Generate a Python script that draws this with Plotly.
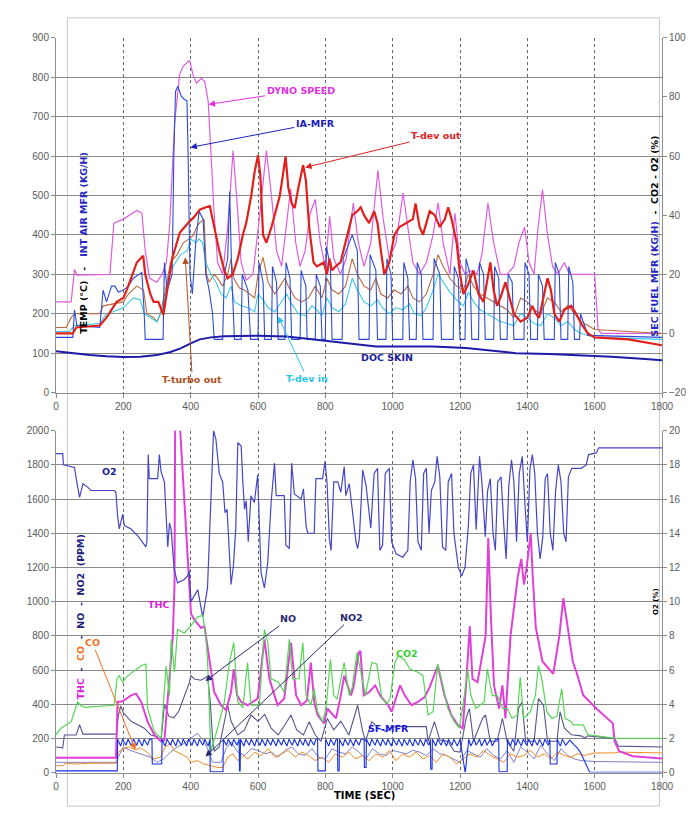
import plotly.graph_objects as go

# ---------------- upper panel: temperatures / air flow (left axis) ----------------
DYNO_T = [0, 45, 55, 62, 160, 172, 200, 240, 255, 265, 278, 300, 315, 328, 338, 352, 367, 377, 397, 407, 417, 432, 442, 452, 461, 469, 480, 495, 510, 526, 538, 550, 565, 585, 605, 625, 640, 655, 670, 697, 712, 725, 740, 755, 770, 785, 800, 813, 825, 845, 862, 883, 898, 915, 935, 956, 972, 990, 1010, 1031, 1045, 1060, 1080, 1100, 1120, 1135, 1150, 1170, 1185, 1200, 1215, 1230, 1250, 1265, 1283, 1300, 1320, 1340, 1360, 1375, 1392, 1405, 1420, 1432, 1445, 1460, 1475, 1490, 1510, 1525, 1600, 1610, 1620, 1800]
DYNO_V = [230, 230, 312, 298, 300, 430, 440, 462, 455, 360, 290, 280, 300, 330, 430, 680, 806, 827, 843, 806, 785, 797, 789, 739, 597, 464, 330, 300, 420, 614, 480, 330, 285, 300, 450, 614, 500, 360, 320, 517, 380, 320, 360, 455, 490, 380, 320, 447, 340, 300, 340, 481, 380, 320, 380, 564, 440, 340, 380, 506, 420, 330, 300, 330, 400, 481, 380, 300, 455, 330, 300, 310, 300, 350, 481, 380, 300, 300, 320, 380, 420, 330, 300, 420, 515, 400, 320, 300, 330, 300, 300, 160, 150, 150]

IAMFR_T = [0, 50, 55, 62, 130, 140, 150, 165, 175, 185, 200, 215, 230, 255, 262, 265, 318, 322, 330, 345, 350, 355, 362, 372, 382, 389, 392, 398, 405, 415, 425, 437, 445, 455, 465, 470, 495, 500, 510, 516, 522, 530, 550, 553, 570, 578, 600, 603, 615, 620, 640, 643, 655, 660, 680, 683, 695, 700, 725, 728, 742, 746, 770, 773, 785, 790, 800, 803, 815, 820, 850, 853, 880, 895, 900, 930, 933, 950, 955, 980, 983, 995, 1000, 1030, 1033, 1045, 1050, 1070, 1073, 1085, 1090, 1120, 1123, 1140, 1145, 1180, 1183, 1195, 1200, 1215, 1218, 1230, 1235, 1255, 1258, 1270, 1275, 1300, 1303, 1315, 1320, 1340, 1343, 1355, 1360, 1390, 1393, 1405, 1410, 1430, 1433, 1445, 1450, 1480, 1483, 1495, 1500, 1520, 1523, 1535, 1540, 1555, 1558, 1570, 1580, 1800]
IAMFR_V = [140, 140, 210, 170, 165, 260, 230, 270, 270, 255, 260, 270, 290, 305, 200, 135, 135, 330, 260, 300, 600, 764, 777, 752, 743, 741, 622, 300, 250, 380, 460, 440, 300, 260, 200, 135, 135, 300, 340, 510, 300, 135, 135, 300, 260, 135, 135, 330, 280, 135, 135, 320, 280, 135, 135, 330, 290, 135, 135, 310, 270, 135, 135, 300, 270, 135, 135, 370, 320, 135, 135, 340, 400, 360, 135, 135, 350, 310, 135, 135, 340, 300, 135, 135, 330, 290, 135, 135, 330, 300, 135, 135, 340, 300, 135, 135, 320, 290, 135, 135, 340, 300, 135, 135, 330, 300, 135, 135, 320, 290, 135, 135, 300, 280, 135, 135, 330, 300, 135, 135, 300, 270, 135, 135, 330, 300, 135, 135, 320, 280, 135, 135, 200, 170, 145, 140]

TDEVOUT_T = [0, 50, 60, 130, 150, 180, 200, 210, 240, 259, 265, 280, 290, 304, 319, 330, 345, 368, 393, 410, 427, 445, 457, 465, 475, 485, 500, 510, 525, 540, 555, 565, 580, 590, 600, 607, 615, 625, 640, 654, 665, 682, 690, 700, 709, 720, 734, 742, 752, 765, 775, 785, 795, 805, 812, 820, 830, 845, 860, 880, 895, 905, 915, 930, 945, 955, 965, 975, 990, 1005, 1020, 1040, 1060, 1068, 1080, 1090, 1100, 1110, 1125, 1140, 1155, 1165, 1175, 1190, 1200, 1210, 1222, 1240, 1255, 1270, 1290, 1300, 1310, 1320, 1335, 1345, 1360, 1380, 1400, 1415, 1425, 1435, 1450, 1460, 1470, 1480, 1495, 1510, 1530, 1545, 1560, 1580, 1600, 1700, 1800]
TDEVOUT_V = [150, 150, 165, 170, 190, 230, 240, 260, 330, 347, 300, 250, 230, 230, 197, 260, 340, 406, 431, 445, 464, 470, 473, 440, 400, 360, 310, 290, 300, 340, 400, 430, 500, 560, 602, 550, 400, 380, 420, 464, 500, 599, 520, 480, 468, 520, 577, 540, 420, 330, 320, 325, 330, 300, 340, 310, 320, 330, 380, 450, 460, 470, 450, 430, 460, 430, 360, 300, 330, 400, 420, 430, 440, 480, 420, 400, 430, 460, 450, 420, 440, 470, 440, 380, 300, 250, 270, 310, 250, 230, 330, 260, 220, 240, 280, 250, 200, 180, 190, 220, 200, 190, 255, 290, 260, 200, 180, 210, 220, 200, 175, 150, 140, 135, 120]

TTURBO_T = [0, 30, 45, 55, 130, 140, 200, 215, 240, 260, 270, 290, 300, 310, 325, 340, 360, 378, 395, 407, 418, 427, 440, 447, 455, 470, 480, 495, 510, 520, 528, 545, 560, 575, 590, 600, 615, 630, 650, 665, 680, 690, 710, 730, 750, 770, 790, 805, 820, 840, 860, 880, 895, 915, 935, 950, 965, 985, 1005, 1025, 1045, 1060, 1080, 1100, 1120, 1135, 1150, 1170, 1190, 1210, 1225, 1240, 1260, 1280, 1300, 1320, 1340, 1360, 1380, 1400, 1420, 1440, 1460, 1480, 1500, 1520, 1540, 1560, 1580, 1600, 1800]
TTURBO_V = [165, 165, 190, 200, 200, 220, 230, 250, 270, 260, 200, 190, 180, 200, 260, 330, 350, 380, 390, 398, 420, 431, 440, 300, 280, 300, 290, 270, 300, 340, 290, 265, 260, 250, 240, 300, 343, 280, 250, 270, 290, 270, 240, 230, 240, 270, 240, 290, 260, 250, 270, 340, 300, 270, 260, 290, 250, 240, 260, 250, 270, 240, 230, 250, 300, 350, 320, 290, 270, 260, 300, 270, 250, 240, 230, 220, 210, 190, 240, 230, 210, 200, 240, 230, 205, 220, 200, 180, 170, 160, 150]

TDEVIN_T = [0, 40, 55, 130, 150, 170, 200, 230, 250, 262, 280, 300, 320, 335, 355, 370, 390, 400, 415, 425, 435, 445, 460, 475, 490, 505, 520, 530, 550, 570, 590, 600, 615, 630, 650, 670, 685, 700, 720, 740, 760, 775, 790, 805, 820, 840, 860, 880, 895, 915, 935, 955, 970, 990, 1010, 1030, 1050, 1065, 1085, 1100, 1120, 1135, 1150, 1170, 1190, 1210, 1225, 1240, 1260, 1280, 1300, 1320, 1340, 1360, 1380, 1400, 1420, 1440, 1460, 1480, 1500, 1520, 1540, 1560, 1580, 1600, 1800]
TDEVIN_V = [155, 155, 170, 175, 200, 205, 215, 240, 235, 200, 190, 180, 220, 300, 330, 350, 360, 390, 380, 390, 380, 330, 300, 280, 250, 240, 270, 230, 220, 215, 205, 250, 235, 215, 205, 230, 250, 225, 200, 195, 220, 210, 195, 240, 215, 205, 225, 290, 260, 230, 220, 235, 215, 200, 215, 210, 225, 200, 195, 215, 260, 300, 280, 255, 235, 220, 255, 230, 210, 200, 190, 180, 175, 170, 200, 190, 175, 170, 200, 190, 170, 180, 160, 150, 145, 140, 135]

DOC_T = [0, 50, 100, 150, 200, 250, 300, 340, 370, 400, 427, 460, 500, 600, 684, 740, 803, 880, 951, 1050, 1119, 1218, 1300, 1366, 1465, 1550, 1650, 1750, 1800]
DOC_V = [105, 100, 95, 92, 90, 91, 95, 103, 112, 125, 135, 140, 143, 144, 142, 137, 131, 122, 117, 117, 117, 113, 106, 100, 98, 95, 91, 85, 82]

# ---------------- lower panel: emissions ----------------
# O2, CO2 and secondary fuel flow are read on the right-hand (%) axis
O2_T = [0, 20, 22, 55, 60, 65, 70, 80, 94, 104, 173, 178, 183, 188, 198, 203, 223, 245, 267, 270, 274, 277, 302, 307, 312, 322, 330, 332, 337, 342, 351, 361, 381, 391, 396, 401, 421, 436, 450, 460, 468, 475, 485, 495, 502, 508, 515, 520, 527, 534, 540, 550, 555, 560, 565, 571, 579, 589, 599, 609, 619, 629, 639, 649, 654, 678, 683, 693, 700, 708, 728, 735, 743, 748, 767, 772, 792, 799, 805, 812, 817, 825, 837, 846, 856, 861, 871, 881, 891, 896, 901, 911, 921, 935, 945, 955, 962, 970, 978, 990, 997, 1010, 1030, 1045, 1052, 1060, 1068, 1075, 1085, 1092, 1100, 1108, 1115, 1125, 1132, 1140, 1148, 1158, 1165, 1175, 1182, 1195, 1205, 1215, 1225, 1232, 1240, 1248, 1258, 1265, 1275, 1282, 1290, 1298, 1305, 1312, 1322, 1330, 1337, 1345, 1353, 1360, 1368, 1376, 1385, 1392, 1400, 1408, 1415, 1422, 1430, 1438, 1446, 1453, 1460, 1468, 1476, 1484, 1492, 1500, 1508, 1515, 1522, 1532, 1560, 1575, 1582, 1605, 1612, 1800]
O2_V = [18.66, 18.66, 18.0, 17.85, 17.2, 16.5, 16.1, 16.9, 16.7, 16.5, 16.5, 16.4, 15.0, 14.25, 15.1, 14.45, 14.25, 13.8, 13.2, 13.5, 18.6, 17.2, 17.2, 18.6, 17.6, 17.0, 14.1, 13.2, 14.6, 14.2, 11.9, 11.1, 11.3, 11.5, 11.8, 10.0, 10.7, 9.1, 10.8, 16.2, 20.0, 19.5, 17.5, 17.0, 15.2, 15.4, 12.3, 11.0, 12.1, 14.3, 19.3, 19.1, 17.0, 15.4, 15.9, 13.5, 16.2, 15.8, 17.4, 11.7, 10.8, 12.3, 15.8, 18.1, 16.2, 16.2, 13.3, 13.1, 18.1, 16.3, 16.0, 16.6, 14.4, 14.0, 14.0, 17.2, 17.2, 18.2, 17.0, 13.7, 13.0, 17.0, 17.0, 16.4, 17.9, 16.2, 16.9, 15.2, 13.5, 13.1, 13.7, 17.7, 16.8, 14.3, 17.5, 17.8, 13.0, 13.3, 17.5, 17.8, 13.5, 12.8, 12.6, 13.0, 17.0, 18.3, 17.2, 13.5, 13.0, 17.5, 17.8, 14.0, 16.5, 17.0, 18.5, 17.3, 13.2, 13.0, 17.0, 17.5, 14.0, 12.0, 11.5, 12.0, 14.5, 17.5, 18.0, 14.2, 18.5, 17.0, 13.8, 16.5, 17.2, 14.0, 13.0, 17.0, 17.3, 14.5, 12.5, 16.8, 18.3, 17.0, 13.5, 17.5, 18.5, 16.0, 13.5, 17.8, 18.6, 17.5, 14.0, 12.5, 13.8, 17.2, 17.5, 14.0, 13.0, 16.5, 18.0, 17.0, 14.0, 13.5, 17.3, 17.8, 17.8, 18.0, 18.6, 18.7, 19.0, 19.0]

CO2_T = [0, 15, 45, 64, 75, 90, 104, 173, 181, 188, 198, 210, 233, 253, 267, 272, 292, 312, 327, 337, 342, 352, 361, 381, 401, 420, 436, 445, 450, 460, 480, 500, 515, 528, 540, 555, 569, 579, 604, 619, 629, 639, 660, 678, 693, 703, 722, 733, 743, 757, 767, 777, 792, 802, 815, 825, 835, 846, 856, 871, 880, 894, 911, 919, 938, 953, 968, 982, 992, 1007, 1017, 1035, 1051, 1075, 1090, 1105, 1120, 1134, 1149, 1164, 1183, 1198, 1213, 1223, 1232, 1247, 1272, 1281, 1296, 1311, 1326, 1340, 1355, 1370, 1379, 1389, 1409, 1424, 1433, 1443, 1458, 1473, 1488, 1502, 1512, 1531, 1536, 1566, 1580, 1659, 1800]
CO2_V = [2.21, 2.6, 2.98, 4.13, 3.9, 3.8, 3.85, 3.94, 5.48, 5.67, 5.29, 5.6, 5.96, 6.25, 6.35, 3.75, 2.4, 2.02, 6.25, 4.52, 7.79, 5.87, 8.37, 8.17, 8.6, 9.1, 9.2, 8.0, 6.63, 1.25, 2.6, 4.13, 6.44, 7.6, 4.13, 3.8, 6.44, 3.94, 3.94, 8.37, 7.6, 5.48, 5.3, 4.71, 7.79, 5.48, 5.5, 7.6, 4.52, 3.94, 4.9, 3.56, 2.98, 3.75, 6.63, 4.52, 4.3, 5.48, 6.44, 4.52, 5.0, 7.02, 5.29, 4.52, 6.44, 6.35, 4.33, 4.04, 4.3, 6.44, 6.83, 6.6, 6.06, 5.87, 5.67, 3.37, 3.56, 6.35, 5.1, 3.75, 2.98, 2.6, 4.52, 6.06, 4.52, 3.75, 4.13, 6.06, 4.5, 4.52, 3.75, 3.75, 3.17, 3.37, 5.58, 3.17, 3.56, 4.52, 6.25, 5.48, 3.56, 3.17, 3.3, 4.9, 3.17, 2.98, 2.79, 2.79, 2.21, 2.02, 2.0]

SF_T = [0, 182, 183, 192, 198, 208, 214, 224, 230, 240, 246, 256, 262, 272, 278, 285, 286, 314, 315, 324, 330, 340, 346, 356, 362, 372, 378, 388, 394, 404, 410, 420, 426, 436, 442, 452, 457, 458, 496, 497, 506, 512, 522, 528, 538, 544, 545, 547, 548, 558, 564, 574, 580, 590, 596, 606, 612, 622, 628, 638, 644, 654, 660, 670, 676, 686, 692, 702, 708, 718, 724, 734, 740, 750, 756, 766, 772, 777, 778, 800, 801, 810, 816, 826, 832, 836, 837, 841, 842, 852, 858, 868, 874, 884, 890, 900, 906, 915, 916, 921, 922, 932, 938, 948, 954, 964, 970, 980, 986, 996, 1002, 1012, 1018, 1028, 1034, 1044, 1050, 1060, 1066, 1076, 1082, 1092, 1098, 1108, 1112, 1113, 1117, 1118, 1128, 1134, 1144, 1150, 1160, 1166, 1176, 1182, 1192, 1199, 1200, 1215, 1216, 1226, 1232, 1242, 1248, 1258, 1264, 1274, 1280, 1290, 1296, 1306, 1315, 1316, 1340, 1341, 1350, 1356, 1366, 1372, 1382, 1388, 1398, 1404, 1414, 1420, 1430, 1436, 1446, 1452, 1462, 1467, 1468, 1488, 1489, 1498, 1504, 1514, 1526, 1540, 1550, 1560, 1575, 1585, 1800]
SF_V = [0.1, 0.1, 1.95, 1.55, 1.95, 1.6, 1.95, 1.55, 1.95, 1.6, 1.95, 1.55, 1.95, 1.6, 1.95, 1.95, 0.5, 0.5, 1.95, 1.55, 1.95, 1.6, 1.95, 1.55, 1.95, 1.6, 1.95, 1.55, 1.95, 1.6, 1.95, 1.55, 1.95, 1.6, 1.95, 1.55, 1.95, 0.05, 0.05, 1.95, 1.6, 1.95, 1.55, 1.95, 1.6, 1.95, 0.1, 0.1, 1.95, 1.55, 1.95, 1.6, 1.95, 1.55, 1.95, 1.6, 1.95, 1.55, 1.95, 1.6, 1.95, 1.55, 1.95, 1.6, 1.95, 1.55, 1.95, 1.6, 1.95, 1.55, 1.95, 1.6, 1.95, 1.55, 1.95, 1.6, 1.95, 1.95, 0.1, 0.1, 1.95, 1.55, 1.95, 1.6, 1.95, 1.95, 0.1, 0.1, 1.95, 1.55, 1.95, 1.6, 1.95, 1.55, 1.95, 1.6, 1.95, 1.95, 0.3, 0.3, 1.95, 1.55, 1.95, 1.6, 1.95, 1.55, 1.95, 1.6, 1.95, 1.55, 1.95, 1.6, 1.95, 1.55, 1.95, 1.6, 1.95, 1.55, 1.95, 1.6, 1.95, 1.55, 1.95, 1.6, 1.95, 0.2, 0.2, 1.95, 1.55, 1.95, 1.6, 1.95, 1.55, 1.95, 1.6, 1.95, 1.55, 1.95, 1.95, 0.05, 0.05, 1.95, 1.55, 1.95, 1.6, 1.95, 1.55, 1.95, 1.6, 1.95, 1.55, 1.95, 1.95, 0.05, 0.05, 1.95, 1.55, 1.95, 1.6, 1.95, 1.55, 1.95, 1.6, 1.95, 1.55, 1.95, 1.6, 1.95, 1.55, 1.95, 1.6, 1.95, 0.5, 0.5, 1.95, 1.55, 1.95, 1.6, 1.9, 1.6, 1.4, 1.1, 0.5, 0.02, 0.02]

# THC, CO, NO and NO2 are read on the left-hand ppm axis
THC_T = [0, 178, 183, 198, 223, 238, 253, 272, 292, 312, 322, 330, 337, 347, 352, 354, 366, 401, 411, 431, 441, 455, 470, 490, 505, 520, 528, 538, 550, 569, 599, 619, 634, 658, 678, 698, 713, 728, 745, 757, 767, 777, 796, 806, 832, 846, 856, 876, 884, 899, 904, 914, 930, 948, 963, 987, 997, 1022, 1036, 1056, 1075, 1095, 1110, 1134, 1154, 1174, 1193, 1208, 1218, 1229, 1237, 1252, 1262, 1276, 1284, 1292, 1301, 1316, 1326, 1335, 1350, 1362, 1372, 1382, 1390, 1398, 1410, 1416, 1425, 1445, 1465, 1477, 1495, 1507, 1520, 1535, 1546, 1566, 1605, 1654, 1659, 1673, 1713, 1800]
THC_V = [87, 87, 413, 417, 452, 462, 413, 298, 221, 183, 190, 400, 587, 798, 1100, 2100, 2100, 930, 894, 846, 856, 663, 471, 394, 365, 471, 606, 452, 413, 394, 433, 779, 548, 394, 433, 760, 452, 394, 420, 644, 413, 337, 288, 375, 317, 452, 567, 452, 500, 702, 712, 452, 470, 510, 450, 394, 356, 510, 452, 394, 413, 442, 500, 625, 452, 337, 279, 260, 510, 856, 548, 529, 640, 798, 1372, 900, 510, 375, 510, 317, 798, 1000, 1150, 1250, 1100, 1200, 1400, 1150, 850, 650, 600, 577, 800, 1020, 850, 650, 587, 452, 375, 288, 183, 125, 96, 83]

CO_T = [0, 20, 30, 60, 100, 180, 185, 200, 215, 236, 250, 270, 290, 310, 325, 340, 350, 370, 390, 400, 420, 440, 460, 480, 495, 510, 525, 540, 555, 570, 590, 610, 630, 650, 670, 690, 710, 730, 750, 770, 790, 810, 830, 850, 870, 890, 910, 930, 950, 970, 990, 1010, 1030, 1050, 1070, 1090, 1110, 1130, 1150, 1170, 1190, 1210, 1230, 1250, 1270, 1290, 1310, 1330, 1350, 1370, 1390, 1410, 1430, 1450, 1470, 1490, 1510, 1530, 1550, 1570, 1600, 1660, 1670, 1800]
CO_V = [40, 40, 55, 50, 55, 55, 120, 140, 150, 133, 145, 120, 80, 90, 150, 170, 130, 110, 90, 60, 70, 50, 40, 30, 30, 90, 110, 70, 100, 80, 120, 100, 140, 90, 110, 130, 90, 120, 100, 70, 90, 60, 110, 90, 120, 80, 100, 70, 110, 90, 130, 70, 110, 90, 120, 80, 100, 60, 110, 90, 50, 80, 110, 90, 130, 100, 80, 60, 110, 90, 100, 130, 90, 110, 80, 120, 100, 90, 110, 100, 115, 115, 120, 115]

NO_T = [0, 20, 25, 60, 70, 80, 180, 185, 192, 200, 223, 262, 282, 300, 312, 322, 335, 350, 365, 381, 395, 401, 411, 430, 445, 450, 458, 465, 470, 485, 500, 510, 520, 540, 560, 579, 600, 620, 639, 660, 680, 698, 715, 735, 752, 770, 787, 806, 825, 846, 870, 896, 910, 919, 938, 958, 980, 1000, 1010, 1100, 1105, 1124, 1140, 1164, 1183, 1200, 1218, 1228, 1240, 1267, 1276, 1290, 1310, 1326, 1340, 1360, 1374, 1384, 1395, 1420, 1433, 1448, 1460, 1488, 1497, 1510, 1531, 1560, 1570, 1580, 1660, 1670, 1800]
NO_V = [150, 145, 220, 220, 280, 225, 225, 330, 390, 350, 300, 260, 220, 210, 180, 400, 330, 320, 360, 450, 520, 567, 548, 540, 556, 567, 420, 200, 125, 150, 300, 394, 300, 220, 250, 337, 300, 340, 260, 220, 280, 337, 250, 220, 298, 220, 183, 317, 250, 300, 220, 394, 250, 183, 298, 260, 240, 265, 270, 269, 183, 298, 190, 183, 125, 120, 317, 375, 183, 317, 337, 183, 183, 317, 183, 125, 375, 413, 183, 183, 433, 394, 183, 183, 356, 260, 221, 215, 202, 215, 200, 155, 150]

NO2_T = [0, 180, 185, 200, 220, 250, 280, 300, 320, 340, 360, 380, 400, 420, 440, 455, 465, 490, 505, 520, 540, 560, 580, 600, 620, 640, 660, 680, 700, 720, 740, 760, 780, 800, 820, 840, 860, 880, 900, 920, 940, 960, 980, 1000, 1020, 1040, 1060, 1080, 1100, 1120, 1140, 1160, 1180, 1200, 1220, 1240, 1260, 1280, 1300, 1320, 1340, 1360, 1380, 1400, 1420, 1440, 1460, 1480, 1500, 1520, 1540, 1560, 1600, 1800]
NO2_V = [60, 60, 90, 150, 130, 110, 90, 60, 80, 120, 150, 170, 200, 230, 180, 120, 60, 60, 140, 180, 120, 100, 140, 130, 110, 120, 90, 130, 150, 110, 100, 140, 90, 80, 140, 120, 110, 150, 120, 80, 140, 110, 100, 130, 120, 110, 130, 120, 100, 140, 110, 100, 80, 60, 130, 110, 90, 140, 100, 80, 130, 60, 150, 120, 80, 160, 110, 70, 140, 100, 80, 70, 65, 60]

# ---------------- axis ticks ----------------
TIME_TICKS = [0, 200, 400, 600, 800, 1000, 1200, 1400, 1600, 1800]
TEMP_TICKS = [0, 100, 200, 300, 400, 500, 600, 700, 800, 900]
PCT_TICKS_TOP = [-20, 0, 20, 40, 60, 80, 100]
PPM_TICKS = [0, 200, 400, 600, 800, 1000, 1200, 1400, 1600, 1800, 2000]
PCT_TICKS_BOT = [0, 2, 4, 6, 8, 10, 12, 14, 16, 18, 20]

W, H = 691, 819
TOP_Y0, TOP_Y1 = 392.3, 32.3      # pixel rows of the upper plot frame
BOT_Y0, BOT_Y1 = 778.0, 431.0     # pixel rows of the lower plot frame
LEFT_PX, RIGHT_PX = 55.7, 661.7

TICK_FONT = dict(family="Liberation Sans Narrow, Arial Narrow, Liberation Sans, Arial", size=10, color="#5a5a5a")
LABEL_FONT = "DejaVu Sans, Verdana, sans-serif"

fig = go.Figure()


def add_line(x, y, color, width, xa, ya, name):
    fig.add_trace(go.Scatter(x=x, y=y, mode="lines", name=name,
                             line=dict(color=color, width=width),
                             xaxis=xa, yaxis=ya, hoverinfo="skip"))


# upper panel
add_line(DYNO_T, DYNO_V, "#DE5CE0", 1.2, "x", "y", "DYNO SPEED")
add_line(TTURBO_T, TTURBO_V, "#B86A3C", 1.1, "x", "y", "T-turbo out")
add_line(TDEVIN_T, TDEVIN_V, "#3CC8E6", 1.1, "x", "y", "T-dev in")
add_line(IAMFR_T, IAMFR_V, "#2E4BD6", 1.1, "x", "y", "IA-MFR")
add_line(TDEVOUT_T, TDEVOUT_V, "#E0201C", 2.2, "x", "y", "T-dev out")
add_line(DOC_T, DOC_V, "#1C1CA8", 2.0, "x", "y", "DOC SKIN")
# keeps the right-hand scale of the upper panel alive
fig.add_trace(go.Scatter(x=[0], y=[None], mode="lines", xaxis="x", yaxis="y2",
                         showlegend=False, hoverinfo="skip"))

# lower panel
add_line(O2_T, O2_V, "#4646C6", 1.2, "x2", "y4", "O2")
add_line(CO2_T, CO2_V, "#55D655", 1.2, "x2", "y4", "CO2")
add_line(NO_T, NO_V, "#55558E", 1.1, "x2", "y3", "NO")
add_line(NO2_T, NO2_V, "#8080C8", 1.0, "x2", "y3", "NO2")
add_line(CO_T, CO_V, "#F08A24", 1.0, "x2", "y3", "CO")
add_line(THC_T, THC_V, "#E040D8", 2.0, "x2", "y3", "THC")
add_line(SF_T, SF_V, "#1830E0", 1.1, "x2", "y4", "SF-MFR")


def py(px):
    return 1 - px / H


axis_common = dict(showline=True, linecolor="#8c8c8c", linewidth=1, ticks="outside",
                   ticklen=4, tickcolor="#8c8c8c", tickfont=TICK_FONT, zeroline=False)

fig.update_layout(
    width=W, height=H,
    margin=dict(l=LEFT_PX, r=W - RIGHT_PX, t=0, b=0, pad=0),
    paper_bgcolor="white", plot_bgcolor="white",
    showlegend=False,
    xaxis=dict(domain=[0, 1], anchor="y", range=[0, 1800], tickvals=TIME_TICKS,
               showgrid=True, gridcolor="#666666", griddash="dot", gridwidth=1, **axis_common),
    yaxis=dict(domain=[py(TOP_Y0), py(TOP_Y1)], anchor="x", range=[0, 900], tickvals=TEMP_TICKS,
               showgrid=True, gridcolor="#8a8a8a", gridwidth=1.3, **axis_common),
    yaxis2=dict(overlaying="y", anchor="x", side="right", range=[-20, 100], tickvals=PCT_TICKS_TOP,
                showgrid=False, **axis_common),
    xaxis2=dict(domain=[0, 1], anchor="y3", range=[0, 1800], tickvals=TIME_TICKS,
                showgrid=True, gridcolor="#666666", griddash="dot", gridwidth=1, **axis_common),
    yaxis3=dict(domain=[py(BOT_Y0), py(BOT_Y1)], anchor="x2", range=[0, 2000], tickvals=PPM_TICKS,
                showgrid=True, gridcolor="#8a8a8a", gridwidth=1.3, **axis_common),
    yaxis4=dict(overlaying="y3", anchor="x2", side="right", range=[0, 20], tickvals=PCT_TICKS_BOT,
                showgrid=False, **axis_common),
)

# outer frame around the whole chart
fig.add_shape(type="rect", xref="paper", yref="paper", x0=13 / W, x1=688 / W, y0=py(812), y1=py(12),
              line=dict(color="#c8c8c8", width=1), fillcolor="rgba(0,0,0,0)", layer="below")

NB = "\u00a0"
ann = []


def title(text, xpx, ypx, angle=-90, size=9.5, color="black"):
    ann.append(dict(text=text, x=xpx / W, y=py(ypx), xref="paper", yref="paper", showarrow=False,
                    textangle=angle, font=dict(family=LABEL_FONT, size=size, color=color),
                    xanchor="center", yanchor="middle"))


title("<b>TEMP (°C)" + NB * 3 + "-" + NB * 3 + "<span style='color:#2424C0'>INT AIR MFR (KG/H)</span></b>", 31, 240)
title("<b><span style='color:#2424C0'>SEC FUEL MFR (KG/H)</span>" + NB * 2 + "-" + NB * 2 + "CO2" + NB + "-" + NB + "O2 (%)</b>", 682, 234)
title("<b><span style='color:#E020E0'>THC</span>" + NB * 2 + "-" + NB * 2 + "<span style='color:#F07020'>CO</span>"
      + NB * 2 + "-" + NB * 2 + "NO" + NB * 2 + "-" + NB * 2 + "NO2" + NB * 2 + "(PPM)</b>", 28, 620, color="#202080")
title("<b>O2 (%)</b>", 684, 604, size=7)
title("<b>TIME (SEC)</b>", 352, 801, angle=0, size=10)


def label(text, color, x, y, xa="x", ya="y", ax=None, ay=None, size=9.5):
    d = dict(text="<b>" + text + "</b>", x=x, y=y, xref=xa, yref=ya,
             font=dict(family=LABEL_FONT, size=size, color=color))
    if ax is None:
        d.update(showarrow=False)
    else:
        d.update(showarrow=True, ax=ax, ay=ay, arrowhead=2, arrowsize=1.3, arrowwidth=1,
                 arrowcolor=color, standoff=0)
    ann.append(d)


label("DYNO SPEED", "#E030E0", 453, 731, ax=92, ay=-14)
label("IA-MFR", "#2020C0", 399, 622, ax=125, ay=-24)
label("T-dev out", "#E02020", 740, 571, ax=131, ay=-32)
label("T-turbo out", "#B05020", 384, 343, ax=7, ay=122)
label("T-dev in", "#24C6E6", 660, 193, ax=29, ay=62)
label("DOC SKIN", "#1A1AA0", 984, 88)

label("O2", "#202090", 159, 1764, "x2", "y3")
label("THC", "#E020E0", 304, 986, "x2", "y3")
label("CO", "#F07020", 236, 133, "x2", "y3", ax=-43, ay=-107)
label("NO", "#2A2A70", 444, 536, "x2", "y3", ax=83, ay=-62)
label("NO2", "#2A2A70", 444, 94, "x2", "y3", ax=146, ay=-139)
label("CO2", "#30D030", 1044, 697, "x2", "y3")
label("SF-MFR", "#1A1AE0", 987, 259, "x2", "y3")

fig.update_layout(annotations=ann)

fig.write_html("out.html")
